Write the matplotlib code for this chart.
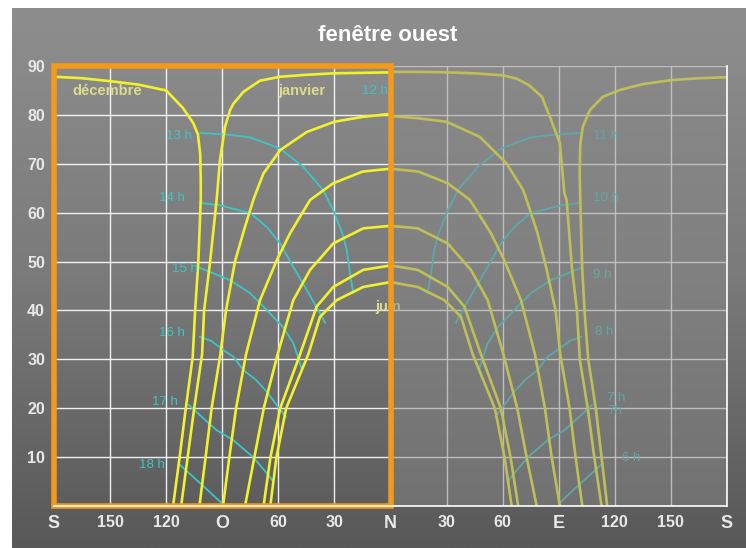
import numpy as np
import matplotlib.pyplot as plt
from matplotlib.patches import Rectangle
from matplotlib.colors import LinearSegmentedColormap

plt.rcParams['font.family'] = ['Liberation Sans', 'DejaVu Sans']

# position on the x axis: -180 = S (left), -90 = O, 0 = N, 90 = E, 180 = S (right)

# courbes des mois, côté ouest (moitié encadrée)
dec_x = [-180, -165, -150, -135, -120, -111, -105.5, -103, -101.8, -101.5, -101.5, -102.8, -104.5, -105.8, -109.5, -112.8, -116.3]
dec_y = [87.8, 87.5, 86.9, 86.2, 85.0, 81.4, 78.3, 76.0, 72.0, 67.0, 62.6, 50.0, 40.0, 30.5, 20.0, 10.0, 0.0]
jan_x = [0, -15, -30.7, -45, -59, -69.8, -78.7, -84, -85.8, -88.5, -91.2, -93, -96.5, -99.7, -100.8, -105, -108.5, -112]
jan_y = [88.7, 88.6, 88.5, 88.2, 87.8, 87.0, 84.7, 82.3, 81.0, 77.6, 70.8, 62.6, 50.0, 40.0, 31.0, 20.0, 10.0, 0.0]
feb_x = [0, -14.7, -30, -44.8, -59, -68, -73.4, -78.7, -83.2, -88, -91, -95.7, -98.9, -102.2]
feb_y = [80.2, 79.6, 78.6, 76.5, 72.8, 68.0, 62.6, 56.0, 50.0, 40.0, 31.0, 20.0, 10.0, 0.0]
mar_x = [0, -15, -30.7, -43, -53.7, -60.8, -69.8, -77.3, -82.6, -86.2, -89.6]
mar_y = [69.0, 68.4, 66.0, 62.6, 55.8, 50.3, 42.1, 31.0, 20.0, 10.0, 0.0]
apr_x = [0, -14.5, -30.6, -43, -52, -60.4, -67.8, -72.8, -77.8]
apr_y = [57.3, 56.8, 53.7, 48.3, 42.1, 31.0, 20.0, 10.0, 0.0]
may_x = [0, -14.6, -30.6, -39.5, -48.4, -59, -64.2, -67.9]
may_y = [49.2, 48.3, 44.8, 40.8, 31.0, 20.0, 10.0, 0.0]
jun_x = [0, -14.6, -28.8, -37.7, -44, -55.8, -61, -64.3]
jun_y = [45.8, 44.8, 42.1, 38.7, 31.0, 20.0, 10.0, 0.0]

# courbes des heures, côté ouest
h13_x = [-101.5, -88, -75, -59, -46.8, -36, -30.6, -25.5, -23.4, -21.7, -19.9]
h13_y = [76.3, 76.0, 75.4, 73.1, 69.4, 64.6, 60.5, 55.5, 52.4, 47.6, 43.6]
h14_x = [-101.9, -91.2, -75, -66.2, -59, -52, -44.8, -37.7, -35]
h14_y = [62.0, 61.5, 59.9, 57.1, 53.7, 48.9, 44.2, 39.4, 37.5]
h15_x = [-101.9, -85.8, -75, -66.2, -57.5, -52, -49.5, -47.3]
h15_y = [48.7, 46.2, 43.5, 40.1, 36.6, 33.3, 30.5, 27.8]
h16_x = [-101.9, -96, -89.4, -84, -78.7, -72, -66.2, -58, -56]
h16_y = [34.6, 33.8, 31.9, 30.5, 27.8, 25.8, 23.4, 19.2, 18.2]
h17_x = [-108, -102, -93, -84.2, -73.5, -64.4, -62.8]
h17_y = [20.7, 18.6, 15.5, 13.5, 10.0, 5.9, 5.0]
h18_x = [-112.6, -101.9, -90.3]
h18_y = [8.4, 4.7, 0.6]

# côté est (moitié grisée)
e_dec_x = [180, 165, 150, 135, 122.7, 113.6, 106.7, 102.9, 101.5, 101.2, 101.5, 102.5, 104, 105.8, 109.8, 112.9, 115.9]
e_dec_y = [87.7, 87.5, 87.1, 86.3, 85.1, 83.7, 81.0, 77.6, 74.0, 68.0, 62.6, 48.9, 38.7, 29.9, 20.0, 10.0, 0.0]
e_jan_x = [0, 15, 30, 45, 60, 67.5, 74, 81, 86, 90.6, 93, 94.2, 97, 99.7, 101.3, 105.5, 109, 112.9]
e_jan_y = [88.8, 88.8, 88.7, 88.5, 88.1, 87.4, 86.1, 83.7, 78.9, 74.2, 64.0, 62.6, 48.9, 40.1, 29.9, 20.0, 10.0, 0.0]
e_feb_x = [0, 15, 30, 47.8, 62, 71, 72.8, 78.5, 83.2, 88.3, 90.8, 95.8, 99, 102.6]
e_feb_y = [79.8, 79.3, 78.6, 75.5, 70.1, 64.6, 62.6, 56.0, 48.9, 40.0, 31.0, 20.0, 10.0, 0.0]
e_mar_x = [0, 15, 30.7, 42.5, 53.7, 60.8, 69.8, 77.3, 82.6, 86.2, 90.6]
e_mar_y = [69.0, 68.4, 66.0, 62.6, 55.8, 50.3, 42.1, 31.0, 20.0, 10.0, 0.0]
e_apr_x = [0, 14.5, 30.6, 43, 52, 60.4, 67.8, 72.8, 78.2]
e_apr_y = [57.3, 56.8, 53.7, 48.3, 42.1, 31.0, 20.0, 10.0, 0.0]
e_may_x = [0, 14.6, 30.6, 39.5, 48.4, 59, 64.2, 68.3]
e_may_y = [49.2, 48.3, 44.8, 40.8, 31.0, 20.0, 10.0, 0.0]
e_jun_x = [0, 14.6, 28.8, 37.7, 44, 55.8, 61, 64.8]
e_jun_y = [45.8, 44.8, 42.1, 38.7, 31.0, 20.0, 10.0, 0.0]

h11_x = [101.5, 88, 75, 59, 46.8, 36, 30.6, 25.5, 23.4, 21.7, 19.9]
h11_y = [76.3, 76.0, 75.4, 73.1, 69.4, 64.6, 60.5, 55.5, 52.4, 47.6, 43.6]
h10_x = [101.9, 91.2, 75, 66.2, 59, 52, 44.8, 37.7, 35]
h10_y = [62.0, 61.5, 59.9, 57.1, 53.7, 48.9, 44.2, 39.4, 37.5]
h9_x = [101.9, 85.8, 75, 66.2, 57.5, 52, 49.5, 47.3]
h9_y = [48.7, 46.2, 43.5, 40.1, 36.6, 33.3, 30.5, 27.8]
h8_x = [101.9, 96, 89.4, 84, 78.7, 72, 66.2, 58, 56]
h8_y = [34.6, 33.8, 31.9, 30.5, 27.8, 25.8, 23.4, 19.2, 18.2]
h7_x = [108, 102, 93, 84.2, 73.5, 64.4, 62.8]
h7_y = [20.7, 18.6, 15.5, 13.5, 10.0, 5.9, 5.0]
h6_x = [112.6, 101.9, 90.3]
h6_y = [8.4, 4.7, 0.6]

# étiquettes
west_hours = ['12 h', '13 h', '14 h', '15 h', '16 h', '17 h', '18 h']
west_hx = [-1.3, -106.3, -109.9, -102.8, -109.9, -113.5, -120.6]
west_hy = [84.9, 75.7, 63.0, 48.5, 35.4, 21.3, 8.4]
east_hours = ['11 h', '10 h', '9 h', '8 h', '7 h', '7h', '6 h']
east_hx = [108.3, 108.3, 108.3, 109.4, 115.8, 115.8, 123.8]
east_hy = [75.6, 63.0, 47.2, 35.6, 22.0, 19.4, 9.8]
month_labels = ['décembre', 'janvier', 'juin']
month_lx = [-170.3, -60.2, -8.3]
month_ly = [84.9, 84.9, 40.7]

xticks = [-180, -150, -120, -90, -60, -30, 0, 30, 60, 90, 120, 150, 180]
xlabels = ['S', '150', '120', 'O', '60', '30', 'N', '30', '60', 'E', '120', '150', 'S']
yticks = [0, 10, 20, 30, 40, 50, 60, 70, 80, 90]
ylabels = ['', '10', '20', '30', '40', '50', '60', '70', '80', '90']

YEL = '#f2f22c'
CYAN = '#3cc6c6'
PALE = '#dcdc8c'

fig = plt.figure(figsize=(7.46, 5.48), dpi=100, facecolor='white')

# fond dégradé gris
bg = fig.add_axes([12 / 746, 0, 1 - 12 / 746, 540 / 548])
grad = np.linspace(0, 1, 256).reshape(-1, 1)
cmap = LinearSegmentedColormap.from_list('fond', ['#8e8e8e', '#7a7a7a', '#585858'])
bg.imshow(grad, aspect='auto', cmap=cmap, extent=[0, 1, 0, 1], origin='upper')
bg.axis('off')

ax = fig.add_axes([54 / 746, 42 / 548, 673 / 746, 440 / 548])
ax.patch.set_alpha(0)
ax.set_xlim(-180, 180)
ax.set_ylim(0, 90)

ax.set_xticks(xticks)
ax.set_xticklabels(xlabels)
ax.set_yticks(yticks)
ax.set_yticklabels(ylabels)
ax.tick_params(length=0, colors='#e8e8e8', pad=6.5)
for lab in ax.get_xticklabels() + ax.get_yticklabels():
    if lab.get_text() in ('S', 'O', 'N', 'E'):
        lab.set_fontsize(13)
    else:
        lab.set_fontsize(11.5)
    lab.set_fontweight('bold')

ax.grid(True, color='white', lw=1.0, alpha=0.9)
ax.set_axisbelow(True)
for side in ('left', 'top'):
    ax.spines[side].set_visible(False)
for side in ('right', 'bottom'):
    ax.spines[side].set_color('white')
    ax.spines[side].set_linewidth(1.2)
    ax.spines[side].set_zorder(7)

# heures
for hx, hy in [(h13_x, h13_y), (h14_x, h14_y), (h15_x, h15_y), (h16_x, h16_y),
               (h17_x, h17_y), (h18_x, h18_y), (h11_x, h11_y), (h10_x, h10_y),
               (h9_x, h9_y), (h8_x, h8_y), (h7_x, h7_y), (h6_x, h6_y)]:
    ax.plot(hx, hy, color=CYAN, lw=1.3, zorder=2)

# mois
for mx, my in [(dec_x, dec_y), (jan_x, jan_y), (feb_x, feb_y), (mar_x, mar_y),
               (apr_x, apr_y), (may_x, may_y), (jun_x, jun_y),
               (e_dec_x, e_dec_y), (e_jan_x, e_jan_y), (e_feb_x, e_feb_y),
               (e_mar_x, e_mar_y), (e_apr_x, e_apr_y), (e_may_x, e_may_y),
               (e_jun_x, e_jun_y)]:
    ax.plot(mx, my, color=YEL, lw=1.9, zorder=3, solid_capstyle='round',
            solid_joinstyle='round')

for t, x, y in zip(west_hours, west_hx, west_hy):
    ax.text(x, y, t, color=CYAN, fontsize=9.5, ha='right', va='center', zorder=4)
for t, x, y in zip(east_hours, east_hx, east_hy):
    ax.text(x, y, t, color=CYAN, fontsize=9.5, ha='left', va='center', zorder=4)
for t, x, y in zip(month_labels, month_lx, month_ly):
    ax.text(x, y, t, color=PALE, fontsize=10.5, fontweight='bold',
            ha='left', va='center', zorder=4)

# voile sur la moitié est
ax.add_patch(Rectangle((0, 0), 180, 90, facecolor='#888888', alpha=0.48,
                       lw=0, zorder=5))
# cadre orange
ax.add_patch(Rectangle((-180, 0), 180, 90, fill=False, edgecolor='#f39a1b',
                       lw=4, zorder=6, clip_on=False))

fig.text(0.52, 0.936, 'fenêtre ouest', color='white', fontsize=16,
         fontweight='bold', ha='center', va='center')

fig.savefig('out.png', dpi=100, facecolor=fig.get_facecolor())
